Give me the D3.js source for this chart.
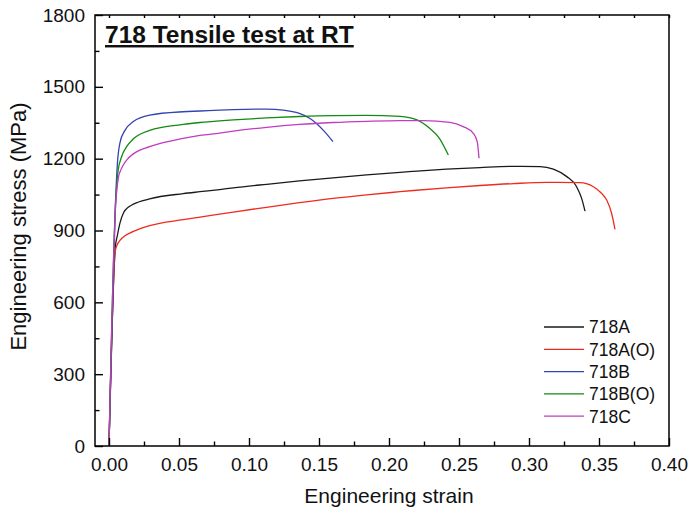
<!DOCTYPE html>
<html>
<head>
<meta charset="utf-8">
<script src="https://cdn.jsdelivr.net/npm/d3@7"></script>
<style>
body { margin: 0; background: #fff; }
svg { font-family: "Liberation Sans", Arial, sans-serif; }
</style>
</head>
<body>
<div id="chart"></div>
<script>
// values
var seriesNames = ["718A", "718A(O)", "718B", "718B(O)", "718C"];
var seriesColors = ["#1a1a1a", "#ee2b1e", "#3145b0", "#138a13", "#c03cc0"];

var strainA = [0, 0.0045, 0.006, 0.008, 0.0105, 0.014, 0.0174, 0.029, 0.053, 0.065, 0.079, 0.0888, 0.1126, 0.136, 0.16, 0.184, 0.208, 0.2174, 0.241, 0.265, 0.289, 0.308, 0.3174, 0.327, 0.334, 0.3376, 0.34];
var stressA = [0, 830, 880, 935, 975, 998, 1010, 1032, 1054, 1062, 1071, 1078, 1093, 1107, 1120, 1132, 1143, 1147, 1156, 1163, 1168, 1167, 1156, 1125, 1083, 1034, 981];

var strainAO = [0, 0.0045, 0.006, 0.008, 0.0114, 0.0174, 0.029, 0.053, 0.065, 0.079, 0.0888, 0.1126, 0.136, 0.16, 0.184, 0.208, 0.2174, 0.241, 0.265, 0.289, 0.3126, 0.3364, 0.341, 0.346, 0.351, 0.3555, 0.359, 0.3614];
var stressAO = [0, 815, 842, 860, 878, 896, 920, 945, 956, 968, 977, 997, 1016, 1034, 1049, 1062, 1067, 1078, 1088, 1096, 1101, 1100, 1096, 1083, 1060, 1027, 972, 905];

var strainB = [0, 0.0045, 0.006, 0.0079, 0.0114, 0.0174, 0.029, 0.053, 0.065, 0.079, 0.0888, 0.1126, 0.1245, 0.136, 0.1436, 0.148, 0.154, 0.16];
var stressB = [0, 1000, 1180, 1268, 1318, 1355, 1382, 1396, 1399, 1403, 1405, 1407, 1403, 1389, 1368, 1348, 1313, 1271];

var strainBO = [0, 0.0045, 0.0065, 0.009, 0.0126, 0.0174, 0.029, 0.053, 0.065, 0.079, 0.0888, 0.1126, 0.136, 0.16, 0.184, 0.208, 0.22, 0.229, 0.236, 0.2424];
var stressBO = [0, 990, 1150, 1208, 1250, 1283, 1318, 1343, 1351, 1358, 1362, 1370, 1376, 1380, 1381, 1377, 1362, 1327, 1285, 1215];

var strainC = [0, 0.0045, 0.0067, 0.009, 0.0126, 0.0174, 0.029, 0.053, 0.065, 0.079, 0.0888, 0.1126, 0.136, 0.16, 0.184, 0.208, 0.2245, 0.2436, 0.253, 0.2602, 0.263, 0.2643];
var stressC = [0, 980, 1120, 1160, 1194, 1220, 1250, 1285, 1297, 1307, 1315, 1331, 1343, 1351, 1356, 1359, 1359, 1352, 1334, 1306, 1271, 1202];

var xTicks = [0, 0.05, 0.1, 0.15, 0.2, 0.25, 0.3, 0.35, 0.4];
var xMinorTicks = [0.025, 0.075, 0.125, 0.175, 0.225, 0.275, 0.325, 0.375];
var yTicks = [0, 300, 600, 900, 1200, 1500, 1800];
var yMinorTicks = [150, 450, 750, 1050, 1350, 1650];

var strains = [strainA, strainAO, strainB, strainBO, strainC];
var stresses = [stressA, stressAO, stressB, stressBO, stressC];

var margin = { top: 15, right: 20, bottom: 64, left: 95 },
    width = 689 - margin.left - margin.right,
    height = 510 - margin.top - margin.bottom;

var svg = d3.select("#chart").append("svg")
    .attr("width", 689)
    .attr("height", 510)
    .append("g")
    .attr("transform", "translate(" + margin.left + "," + margin.top + ")");

var x = d3.scaleLinear().domain([-0.01, 0.40]).range([0, width]);
var y = d3.scaleLinear().domain([0, 1800]).range([height, 0]);

// curves
var line = d3.line()
    .x(function (d) { return x(d[0]); })
    .y(function (d) { return y(d[1]); })
    .curve(d3.curveMonotoneX);

seriesNames.forEach(function (name, i) {
    var pts = strains[i].map(function (s, j) { return [s, stresses[i][j]]; });
    svg.append("path")
        .datum(pts)
        .attr("fill", "none")
        .attr("stroke", seriesColors[i])
        .attr("stroke-width", 1.3)
        .attr("d", line);
});

// axes
svg.append("g")
    .attr("transform", "translate(0," + height + ")")
    .call(d3.axisBottom(x).tickValues(xTicks).tickSize(-8).tickPadding(12)
        .tickFormat(d3.format(".2f")));
svg.append("g")
    .attr("transform", "translate(0," + height + ")")
    .call(d3.axisBottom(x).tickValues(xMinorTicks).tickSize(-4.5).tickFormat(""));

svg.append("g")
    .call(d3.axisLeft(y).tickValues(yTicks).tickSize(-8).tickPadding(10)
        .tickFormat(d3.format("d")));
svg.append("g")
    .call(d3.axisLeft(y).tickValues(yMinorTicks).tickSize(-4.5).tickFormat(""));

// small ticks on top edge
svg.append("g")
    .call(d3.axisTop(x).tickValues(xTicks.concat(xMinorTicks)).tickSize(-3).tickFormat(""));

svg.selectAll(".domain").remove();
svg.selectAll(".tick line").attr("stroke", "#000").attr("stroke-width", 1.4);
svg.selectAll(".tick text").attr("font-size", 19).attr("fill", "#111")
    .attr("font-family", "'Liberation Sans', Arial, sans-serif");

svg.append("rect")
    .attr("width", width)
    .attr("height", height)
    .attr("fill", "none")
    .attr("stroke", "#000")
    .attr("stroke-width", 1.5);

// axis titles
svg.append("text")
    .attr("x", x(0.2))
    .attr("y", height + 57)
    .attr("text-anchor", "middle")
    .attr("font-size", 21)
    .attr("fill", "#111")
    .text("Engineering strain");

svg.append("text")
    .attr("transform", "rotate(-90)")
    .attr("x", -(y(900) - 4))
    .attr("y", -margin.left + 26)
    .attr("text-anchor", "middle")
    .attr("font-size", 22)
    .attr("fill", "#111")
    .text("Engineering stress (MPa)");

// title
svg.append("text")
    .attr("x", 10)
    .attr("y", 28)
    .attr("font-size", 24.5)
    .attr("font-weight", "bold")
    .attr("text-decoration", "underline")
    .attr("fill", "#111")
    .text("718 Tensile test at RT");

// legend
var legend = svg.append("g").attr("transform", "translate(449,312)");
seriesNames.forEach(function (name, i) {
    var row = legend.append("g").attr("transform", "translate(0," + (i * 22.3) + ")");
    row.append("line")
        .attr("x1", 0).attr("x2", 40)
        .attr("stroke", seriesColors[i])
        .attr("stroke-width", 1.3);
    row.append("text")
        .attr("x", 45)
        .attr("dy", "0.36em")
        .attr("font-size", 17.5)
        .attr("fill", "#111")
        .text(name);
});
</script>
</body>
</html>
